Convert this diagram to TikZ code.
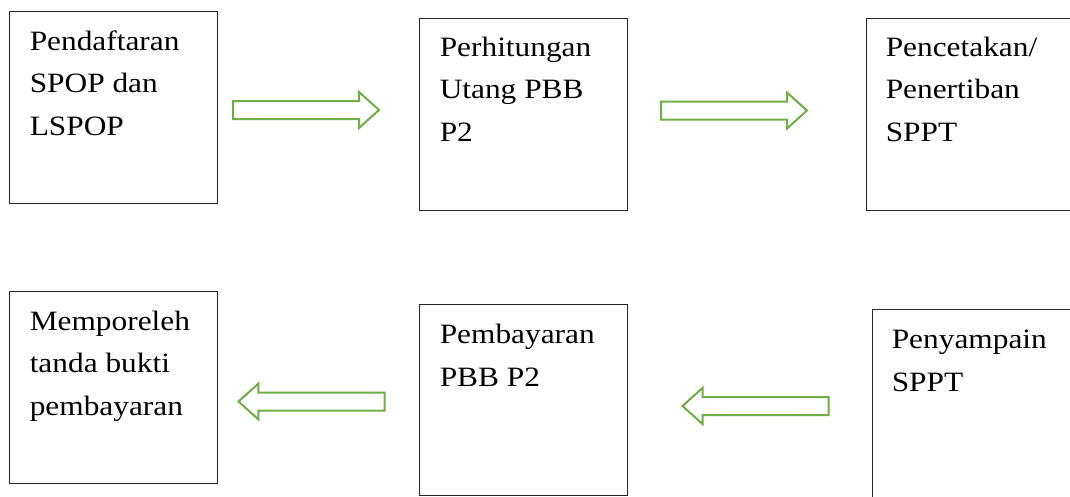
\documentclass[tikz,border=0pt]{standalone}
\usepackage{fontspec}
\setmainfont[FakeStretch=1.12]{Liberation Serif}
\usetikzlibrary{shapes.arrows}
\definecolor{arrowgreen}{RGB}{112,173,71}
\begin{document}
\begin{tikzpicture}
      [x=0.75pt, y=-0.75pt,
       box/.style={draw=black!85, line width=0.75pt, anchor=north west,
         minimum width=156pt, minimum height=144pt, inner sep=0pt},
       boxtext/.style={anchor=base west, align=left, inner sep=0pt,
         font=\fontsize{21pt}{31.9pt}\selectfont},
       blockarrow/.style={draw=arrowgreen, line width=1.5pt, single arrow,
         single arrow tip angle=84, single arrow head extend=6.75pt,
         text height=12pt, text depth=0pt, minimum width=25.5pt,
         minimum height=109.5pt, inner sep=0pt}]
      \useasboundingbox (0,0) rectangle (1070,496);
      \clip (0,0) rectangle (1070,496);

      % upper row (base anchor = baseline of the last line)
      \node[box] (daftar) at (8.5,10.5) {};
      \node[box] (hitung) at (418.5,17.5) {};
      \node[box] (cetak) at (865.5,17.5) {};
      \node[boxtext] (daftartext) at ([shift={(21,125)}]daftar.north west) {Pendaftaran\\SPOP dan\\LSPOP};
      \node[boxtext] (hitungtext) at ([shift={(21,124)}]hitung.north west) {Perhitungan\\Utang PBB\\P2};
      \node[boxtext] (cetaktext) at ([shift={(20,124)}]cetak.north west) {Pencetakan/\\Penertiban\\SPPT};

      % lower row
      \node[box] (bukti) at (8.5,290.5) {};
      \node[box, minimum height=143pt] (bayar) at (418.5,304) {};
      \node[box] (sampai) at (871.5,308.5) {};
      \node[boxtext] (buktitext) at ([shift={(21,125)}]bukti.north west) {Memporeleh\\tanda bukti\\pembayaran};
      \node[boxtext] (bayartext) at ([shift={(21,82)}]bayar.north west) {Pembayaran\\PBB P2};
      \node[boxtext] (sampaitext) at ([shift={(20,82.5)}]sampai.north west) {Penyampain\\SPPT};

      % green block arrows
      \node[blockarrow] (daftarhitung) at (301,110) {};
      \node[blockarrow] (hitungcetak) at (729,110.5) {};
      \node[blockarrow, shape border rotate=180] (sampaibayar) at (760.5,406) {};
      \node[blockarrow, shape border rotate=180] (bayarbukti) at (316.5,401.5) {};
\end{tikzpicture}
\end{document}
